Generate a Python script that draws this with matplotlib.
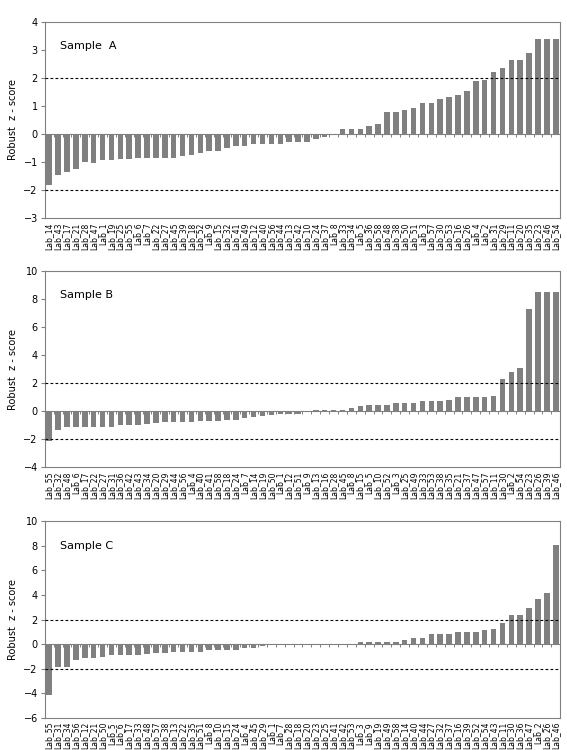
import numpy as np
import matplotlib
matplotlib.use("Agg")
import matplotlib.pyplot as plt

labs_a = [14, 43, 17, 21, 28, 47, 1, 19, 25, 55, 6, 7, 22, 27, 45, 39, 18, 52, 9, 15,
          32, 41, 49, 12, 40, 56, 44, 13, 42, 10, 24, 37, 8, 33, 34, 5, 36, 58, 48, 38,
          50, 51, 3, 57, 30, 53, 16, 26, 4, 2, 31, 29, 11, 20, 35, 23, 46, 54]
vals_a = [-1.81, -1.45, -1.37, -1.25, -1.01, -1.02, -0.91, -0.91, -0.90, -0.90,
          -0.85, -0.85, -0.85, -0.85, -0.85, -0.80, -0.73, -0.68, -0.61, -0.60,
          -0.50, -0.42, -0.42, -0.36, -0.36, -0.36, -0.34, -0.30, -0.30, -0.27,
          -0.16, -0.10, -0.02, 0.17, 0.17, 0.18, 0.27, 0.35, 0.78, 0.78,
          0.85, 0.92, 1.10, 1.10, 1.25, 1.33, 1.40, 1.55, 1.88, 1.92,
          2.20, 2.35, 2.65, 2.65, 2.90, 3.40, 3.40, 3.40]

labs_b = [55, 32, 48, 6, 17, 22, 27, 31, 36, 42, 43, 34, 20, 29, 44, 56, 4, 40, 41, 58,
          18, 24, 7, 14, 19, 50, 1, 12, 51, 9, 13, 16, 28, 45, 8, 15, 5, 10, 52, 3,
          25, 49, 33, 53, 38, 35, 21, 37, 47, 57, 11, 30, 2, 54, 23, 26, 39, 46]
vals_b = [-2.15, -1.35, -1.10, -1.10, -1.10, -1.10, -1.10, -1.10, -1.00, -1.00,
          -1.00, -0.90, -0.82, -0.80, -0.80, -0.78, -0.75, -0.72, -0.70, -0.70,
          -0.62, -0.60, -0.50, -0.40, -0.35, -0.30, -0.22, -0.20, -0.20, 0.02,
          0.08, 0.08, 0.08, 0.08, 0.20, 0.35, 0.45, 0.45, 0.45, 0.55,
          0.55, 0.55, 0.70, 0.70, 0.70, 0.80, 1.00, 1.00, 1.00, 1.00,
          1.10, 2.30, 2.80, 3.10, 7.25, 8.50, 8.50, 8.50]

labs_c = [55, 31, 34, 56, 12, 21, 50, 5, 6, 17, 33, 48, 57, 38, 13, 22, 35, 51, 8, 10,
          15, 24, 4, 45, 29, 1, 7, 28, 18, 20, 23, 25, 41, 42, 53, 3, 9, 19, 49, 58,
          14, 40, 44, 27, 32, 37, 16, 39, 52, 54, 43, 11, 30, 36, 47, 2, 26, 46]
vals_c = [-4.15, -1.85, -1.85, -1.30, -1.10, -1.10, -1.05, -0.90, -0.90, -0.90,
          -0.90, -0.80, -0.75, -0.72, -0.68, -0.65, -0.62, -0.62, -0.50, -0.50,
          -0.50, -0.45, -0.35, -0.30, -0.15, -0.08, -0.06, -0.05, -0.04, -0.03,
          -0.02, -0.01, 0.01, 0.02, 0.03, 0.15, 0.15, 0.15, 0.15, 0.15,
          0.35, 0.50, 0.50, 0.80, 0.80, 0.80, 1.00, 1.00, 1.00, 1.15,
          1.20, 1.75, 2.40, 2.40, 2.90, 3.70, 4.15, 8.10]

panels = [
    ("Sample  A", labs_a, vals_a, (-3, 4), 1, [0.079, 0.709, 0.909, 0.262]),
    ("Sample B", labs_b, vals_b, (-4, 10), 2, [0.079, 0.377, 0.909, 0.262]),
    ("Sample C", labs_c, vals_c, (-6, 10), 2, [0.079, 0.043, 0.909, 0.262]),
]

fig = plt.figure(figsize=(5.67, 7.5), dpi=100)
grey = "#808080"
for title, labs, vals, ylim, step, rect in panels:
    ax = fig.add_axes(rect)
    x = np.arange(len(vals))
    ax.bar(x, vals, width=0.62, color=grey, zorder=2)
    ax.set_xlim(-0.5, len(vals) - 0.5)
    ax.set_ylim(*ylim)
    ax.set_yticks(np.arange(ylim[0], ylim[1] + 0.1, step))
    ax.tick_params(axis="y", labelsize=7, length=3, direction="out", color=grey, pad=2)
    ax.set_xticks(x)
    ax.set_xticklabels([f"Lab_{l}" for l in labs], rotation=90, fontsize=5.5)
    ax.tick_params(axis="x", length=0, pad=3)
    for s in ax.spines.values():
        s.set_color(grey)
        s.set_linewidth(0.8)
    ax.axhline(2, color="black", lw=0.8, ls=(0, (2.5, 2)), zorder=3)
    ax.axhline(-2, color="black", lw=0.8, ls=(0, (2.5, 2)), zorder=3)
    frac = (0 - ylim[0]) / (ylim[1] - ylim[0])
    sec = ax.secondary_xaxis(frac)
    sec.set_xticks(np.arange(len(vals) + 1) - 0.5)
    sec.set_xticklabels([])
    sec.tick_params(axis="x", direction="out", length=2.5, color=grey, width=0.7)
    sec.spines["bottom"].set_color(grey)
    sec.spines["bottom"].set_linewidth(0.8)
    ax.set_ylabel("Robust  z - score", fontsize=7, labelpad=4)
    ax.text(0.03, 0.86, title, transform=ax.transAxes, fontsize=8)

fig.savefig("out.png", dpi=100)
